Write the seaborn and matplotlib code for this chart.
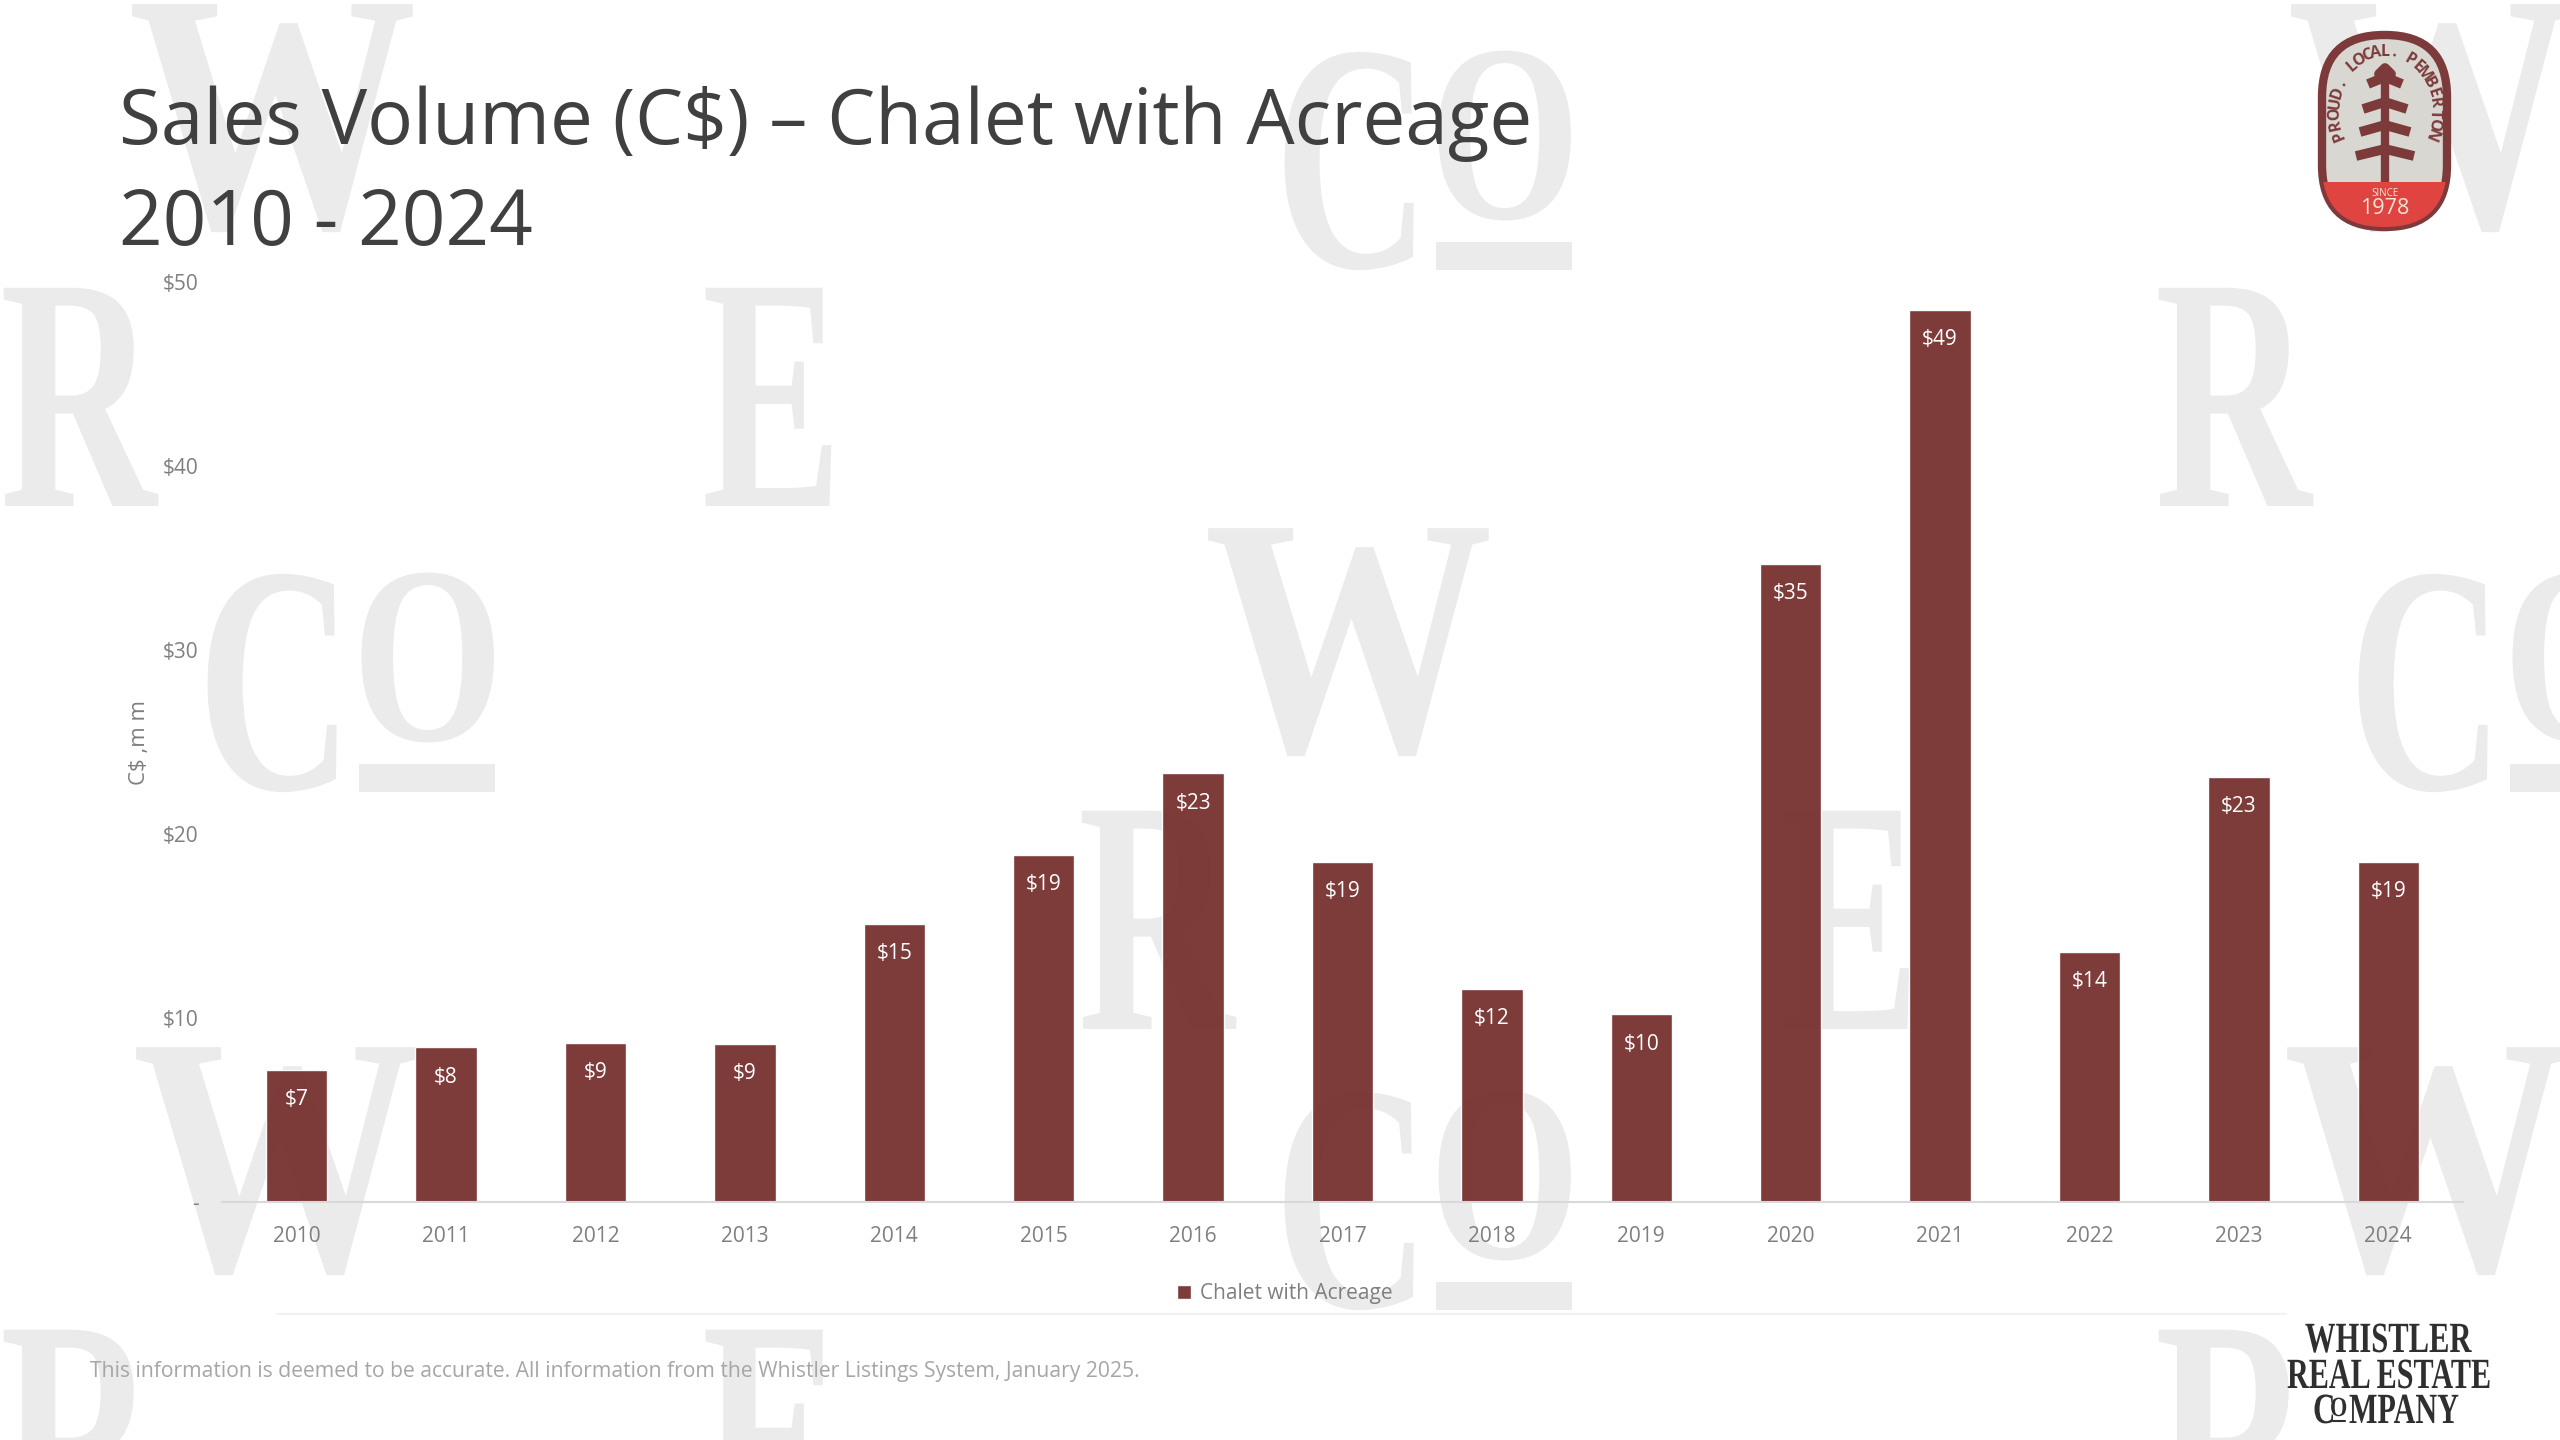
import numpy as np
import pandas as pd
import matplotlib
matplotlib.use('Agg')
import matplotlib.pyplot as plt
from matplotlib.patches import FancyBboxPatch, Rectangle
from matplotlib.patheffects import AbstractPathEffect
from matplotlib.transforms import Affine2D
import seaborn as sns

YEARS = ['2010', '2011', '2012', '2013', '2014', '2015', '2016', '2017',
         '2018', '2019', '2020', '2021', '2022', '2023', '2024']
VOLUME = [7.2, 8.4, 8.65, 8.6, 15.1, 18.85, 23.3, 18.5,
          11.6, 10.2, 34.7, 48.5, 13.6, 23.1, 18.5]
BAR_LABELS = ['$7', '$8', '$9', '$9', '$15', '$19', '$23', '$19',
              '$12', '$10', '$35', '$49', '$14', '$23', '$19']
Y_TICKS = [0, 10, 20, 30, 40, 50]
Y_LABELS = ['-', '$10', '$20', '$30', '$40', '$50']
SERIES = 'Chalet with Acreage'

BAR_COLOR = '#793533'
RING = '#7d3a3a'
MARK = '#ebebeb'
SERIF = 'Liberation Serif'
W, H = 2560, 1440


class Squeeze(AbstractPathEffect):
    # the slide uses a narrow serif, so text gets narrowed around its left edge
    def __init__(self, sx):
        super().__init__()
        self.sx = sx

    def draw_path(self, renderer, gc, tpath, affine, rgbFace=None):
        m = affine.get_matrix().copy()
        m[0, :2] *= self.sx
        renderer.draw_path(gc, tpath, Affine2D(m), rgbFace)


def serif_text(ax, x, y, s, size, sx, color, zorder=1):
    ax.text(x, y, s, fontsize=size, family=SERIF, weight='bold', color=color, va='baseline',
            ha='left', zorder=zorder, path_effects=[Squeeze(sx)])


sns.set_theme(style='white')
plt.rcParams['font.family'] = ['Open Sans', 'DejaVu Sans']

fig = plt.figure(figsize=(W / 100, H / 100), dpi=100, facecolor='white')

# background layer works in pixels, y going down like the slide
bg = fig.add_axes([0, 0, 1, 1], zorder=0)
bg.set_xlim(0, W)
bg.set_ylim(H, 0)
bg.axis('off')

# watermark letters
for x, y in [(128, 227), (2287, 227), (1204, 751), (132, 1270), (2283, 1270)]:
    serif_text(bg, x, y, 'W', 245, 0.85, MARK)
for x, y in [(0, 506), (2155, 506), (1078, 1029), (0, 1548), (2155, 1548)]:
    serif_text(bg, x, y, 'R', 240, 0.65, MARK)
for x, y in [(702, 506), (1780, 1029), (702, 1548)]:
    serif_text(bg, x, y, 'E', 240, 0.63, MARK)
for x, y in [(205, 789), (1282, 267), (2356, 789), (1282, 1307)]:
    serif_text(bg, x - 8, y, 'C', 234, 0.665, MARK)
    serif_text(bg, x + 147, y - 49, 'O', 182, 0.77, MARK)
    bg.add_patch(Rectangle((x + 154, y - 25), 136, 28, color=MARK, lw=0, zorder=1))

# title and footer
bg.text(119, 144, 'Sales Volume (C$) \u2013 Chalet with Acreage', fontsize=55, color='#404040', va='baseline')
bg.text(119, 245, '2010 - 2024', fontsize=55, color='#404040', va='baseline')
bg.text(90, 1371, 'This information is deemed to be accurate. All information from the '
        'Whistler Listings System, January 2025.', fontsize=15.2, color='#a6a6a6', va='center')
bg.plot([277, 2286], [1314, 1314], color='#f2f2f2', lw=1.5)

# company name, bottom right
serif_text(bg, 2305, 1352, 'WHISTLER', 31, 0.71, '#2f2f2f', 3)
serif_text(bg, 2287, 1388, 'REAL ESTATE', 31, 0.70, '#2f2f2f', 3)
serif_text(bg, 2313, 1423, 'C', 31, 0.72, '#2f2f2f', 3)
serif_text(bg, 2330, 1416, 'O', 20, 0.8, '#2f2f2f', 3)
bg.plot([2333, 2345], [1421, 1421], color='#2f2f2f', lw=1.5, zorder=3)
serif_text(bg, 2349, 1423, 'MPANY', 31, 0.70, '#2f2f2f', 3)

# badge, top right
badge = FancyBboxPatch((2322, 35), 125, 192, boxstyle='round,pad=0,rounding_size=62',
                       fc='#d9d7d2', ec=RING, lw=6, zorder=2)
bg.add_patch(badge)
red = Rectangle((2310, 182), 150, 55, fc='#df4440', ec='none', zorder=2.1)
bg.add_patch(red)
red.set_clip_path(badge)
bg.plot([2385, 2385], [75, 182], color=RING, lw=6, zorder=3, solid_capstyle='butt')
for half, y in [(17, 80), (22, 105), (25, 128), (29, 152)]:
    bg.plot([2385 - half, 2385, 2385 + half], [y + 4, y - 3, y + 4], color=RING, lw=7,
            zorder=3, solid_capstyle='butt')
bg.plot([2379, 2385, 2391], [74, 68, 74], color=RING, lw=7, zorder=3)
letters = 'PROUD. LOCAL. PEMBERTON'
for ang, ch in zip(np.linspace(-112, 112, len(letters)), letters):
    a = np.deg2rad(ang)
    bg.text(2385 + 50 * np.sin(a), 112 - 60 * np.cos(a), ch, fontsize=11.5, weight='bold', color=RING,
            rotation=-ang, rotation_mode='anchor', ha='center', va='center', zorder=4)
bg.text(2385, 193, 'SINCE', fontsize=7, color='#f0e4da', ha='center', va='center', zorder=4)
bg.text(2385, 208, '1978', fontsize=15.5, color='#f0e4da', ha='center', va='center', zorder=4)

# chart
df = pd.DataFrame({'year': YEARS, 'volume': VOLUME, 'series': SERIES})

ax = fig.add_axes([222 / W, 1 - 1202 / H, (2463 - 222) / W, 920 / H], zorder=1)
ax.patch.set_alpha(0)
sns.barplot(data=df, x='year', y='volume', hue='series', palette=[BAR_COLOR], saturation=1,
            width=0.41, alpha=0.97, ax=ax)
ax.set_xlim(-0.5, 14.5)
ax.set_ylim(0, 50)
ax.set_xlabel('')
ax.set_ylabel('C$ ,m m', fontsize=16, color='#7f7f7f')
ax.yaxis.set_label_coords((150 - 222) / (2463 - 222), 0.5)
ax.set_yticks(Y_TICKS, Y_LABELS)
ax.tick_params(axis='x', length=0, pad=17, labelsize=15, labelcolor='#7f7f7f')
ax.tick_params(axis='y', length=0, pad=17, labelsize=15, labelcolor='#7f7f7f')
for side in ['top', 'left', 'right']:
    ax.spines[side].set_visible(False)
ax.spines['bottom'].set_color('#d9d9d9')
ax.spines['bottom'].set_linewidth(1.5)
ax.bar_label(ax.containers[0], labels=BAR_LABELS, label_type='edge', padding=-29,
             color='white', fontsize=15)

ax.legend(loc='center', bbox_to_anchor=(1285 / W, 1 - 1294 / H), bbox_transform=fig.transFigure,
          frameon=False, fontsize=15, labelcolor='#7f7f7f', handlelength=0.65, handleheight=0.65,
          handletextpad=0.45, title=None)

fig.savefig('out.png', dpi=100)
